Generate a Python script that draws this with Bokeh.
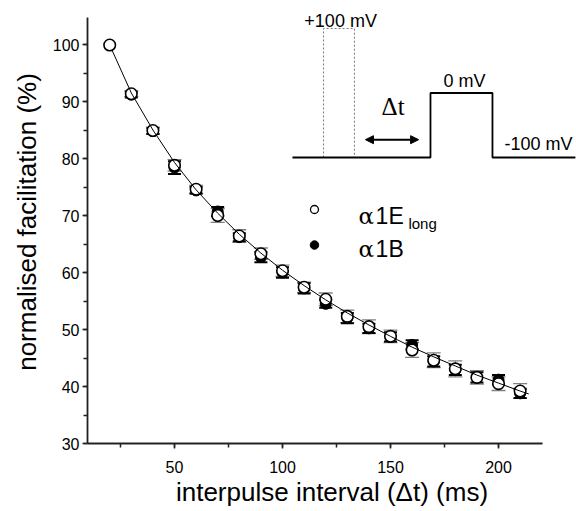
import numpy as np
from bokeh.plotting import figure
from bokeh.models import (ColumnDataSource, Whisker, TeeHead, Arrow, NormalHead,
                          SingleIntervalTicker, Range1d)
from bokeh.core.properties import value
from bokeh.embed import file_html
from bokeh.resources import INLINE

# ---------------- data ----------------
interval_ms = [20, 30, 40, 50, 60, 70, 80, 90, 100, 110, 120, 130, 140, 150, 160, 170, 180, 190, 200, 210]
e_long_mean = [99.9, 91.35, 84.9, 78.8, 74.6, 70.0, 66.4, 63.3, 60.3, 57.4, 55.3, 52.3, 50.5, 48.8, 46.4, 44.6, 43.1, 41.6, 40.5, 39.2]
e_long_sem = [0.0, 0.5, 0.6, 1.0, 0.7, 1.2, 1.1, 1.0, 1.0, 0.9, 1.1, 1.1, 1.2, 1.1, 1.3, 1.3, 1.4, 1.2, 1.2, 1.3]

b_interval_ms = [30, 40, 50, 60, 70, 80, 90, 100, 110, 120, 130, 140, 150, 160, 170, 180, 190, 200, 210]
b_mean = [91.2, 84.8, 78.4, 74.4, 70.7, 66.2, 62.7, 60.0, 57.2, 54.5, 52.0, 50.2, 48.7, 47.3, 44.4, 42.9, 41.6, 41.2, 38.8]
b_sem = [0.5, 0.5, 1.1, 0.6, 0.8, 0.7, 0.9, 0.9, 0.9, 0.7, 0.9, 0.8, 0.8, 0.8, 0.9, 0.9, 0.9, 0.8, 0.8]

fit_x = [21.2, 30, 40, 50, 60, 70, 80, 90, 100, 110, 120, 130, 140, 150, 160, 170, 180, 190, 200, 210, 214]
fit_y = [98.9, 91.5, 85.0, 79.3, 74.5, 70.4, 66.7, 63.4, 60.4, 57.7, 55.2, 52.9, 50.8, 48.8, 46.9, 45.2, 43.6, 42.0, 40.6, 39.2, 38.7]

# voltage protocol schematic (inset): schematic time units, mV
pulse_t = [0, 63.9, 63.9, 92.6, 92.6, 131]
pulse_v = [-100, -100, 0, 0, -100, -100]
pre_t = [14.4, 14.4, 28.7, 28.7]
pre_v = [-100, 100, 100, -100]

# ---------------- figure ----------------
p = figure(width=576, height=511, output_backend="svg", toolbar_location=None,
           x_range=Range1d(9.72, 236.1), y_range=Range1d(30, 107.72),
           min_border_left=87, min_border_right=0, min_border_top=0, min_border_bottom=68)
p.outline_line_color = None
p.xgrid.visible = False
p.ygrid.visible = False
p.background_fill_color = "white"
p.border_fill_color = "white"

FONT = "Liberation Sans"
for ax in (p.xaxis[0], p.yaxis[0]):
    ax.axis_line_color = "#222222"
    ax.axis_line_width = 1.8
    ax.major_tick_line_color = "#222222"
    ax.minor_tick_line_color = "#222222"
    ax.major_tick_line_width = 1.5
    ax.minor_tick_line_width = 1.5
    ax.major_tick_in = 0
    ax.minor_tick_in = 0
    ax.major_tick_out = 5
    ax.minor_tick_out = 4
    ax.major_label_text_font = FONT
    ax.major_label_text_font_size = "16px"
    ax.major_label_text_color = "black"
    ax.axis_label_text_font = FONT
    ax.axis_label_text_font_size = "26px"
    ax.axis_label_text_font_style = "normal"
    ax.axis_label_text_color = "black"

p.xaxis.ticker = SingleIntervalTicker(interval=50, num_minor_ticks=2)
p.yaxis.ticker = SingleIntervalTicker(interval=10, num_minor_ticks=2)
p.xaxis.bounds = (9.72, 220.4)
p.yaxis.bounds = (30, 104.7)
p.xaxis.axis_label = "interpulse interval (\u0394t) (ms)"
p.yaxis.axis_label = "normalised facilitation (%)"
p.xaxis.major_label_standoff = 12
p.yaxis.major_label_standoff = 3
p.xaxis.axis_label_standoff = 1
p.yaxis.axis_label_standoff = 8

# ---------------- error bars ----------------
e_src = ColumnDataSource(dict(
    x=interval_ms,
    y=e_long_mean,
    lo=[m - s for m, s in zip(e_long_mean, e_long_sem)],
    hi=[m + s for m, s in zip(e_long_mean, e_long_sem)],
))
b_src = ColumnDataSource(dict(
    x=b_interval_ms,
    y=b_mean,
    lo=[m - s for m, s in zip(b_mean, b_sem)],
    hi=[m + s for m, s in zip(b_mean, b_sem)],
))
# first point is the reference (no sem)
e_wsrc = ColumnDataSource(dict(
    x=interval_ms[1:], lo=e_src.data["lo"][1:], hi=e_src.data["hi"][1:]))

w1 = Whisker(source=e_wsrc, base="x", lower="lo", upper="hi",
             line_color="#808080", line_width=1,
             upper_head=TeeHead(size=14, line_color="#808080", line_width=1.3),
             lower_head=TeeHead(size=14, line_color="#808080", line_width=1.3))
w2 = Whisker(source=b_src, base="x", lower="lo", upper="hi",
             line_color="black", line_width=1,
             upper_head=TeeHead(size=13, line_color="black", line_width=2),
             lower_head=TeeHead(size=13, line_color="black", line_width=2))
p.add_layout(w1)
p.add_layout(w2)

# ---------------- points ----------------
p.scatter("x", "y", source=b_src, marker="circle", size=11,
          fill_color="black", line_color="black", line_width=1)
p.scatter("x", "y", source=e_src, marker="circle", size=11.5,
          fill_color="white", line_color="black", line_width=1.6)

# fitted curve
p.line(fit_x, fit_y, line_color="black", line_width=1)

# ---------------- inset (voltage protocol) ----------------
T0, TS = 104.6, 1.0 / 2.16 * 2.16   # schematic time -> data x
V0, VS = 80.18, 0.1131              # schematic mV -> data y
def ix(t):
    return [T0 + TS * v for v in t]
def iy(v):
    return [V0 + (u + 100) * VS for u in v]

p.line(ix(pre_t), iy(pre_v), line_color="#777777", line_width=1, line_dash="2 2")
p.line(ix(pulse_t), iy(pulse_v), line_color="black", line_width=1.8)

p.add_layout(Arrow(x_start=ix([33.8])[0], x_end=ix([58.4])[0],
                   y_start=iy([-72.4])[0], y_end=iy([-72.4])[0],
                   line_color="black", line_width=2,
                   start=NormalHead(size=8, fill_color="black", line_color="black"),
                   end=NormalHead(size=8, fill_color="black", line_color="black")))

inset_text = dict(text_font=value(FONT), text_font_size="18px", text_align="center",
                  text_baseline="middle", text_color="black")
p.text(x=ix([22.3]), y=iy([111]), text=["+100 mV"], **inset_text)
p.text(x=ix([79.7]), y=iy([18.7]), text=["0 mV"], **inset_text)
p.text(x=ix([113.9]), y=iy([-78.6]), text=["-100 mV"], **inset_text)
p.text(x=ix([46.6]), y=iy([-21.1]), text=["\u0394t"], text_font=value("Liberation Serif"),
       text_font_size="25px", text_align="center", text_baseline="middle", text_color="black")

# ---------------- legend ----------------
LX, LY1, LY2 = 114.8, 71.05, 64.82
p.scatter([LX], [LY1], marker="circle", size=8, fill_color="white",
          line_color="black", line_width=1.3)
p.scatter([LX], [LY2], marker="circle", size=8.5, fill_color="black", line_color="black")
for yy, lab in ((70.0, "1E"), (64.2, "1B")):
    p.text(x=[135.2], y=[yy], text=["\u03b1"], text_font=value("DejaVu Serif"),
           text_font_size="23px", text_align="left", text_baseline="middle", text_color="black")
    p.text(x=[143.1], y=[yy], text=[lab], text_font=value(FONT),
           text_font_size="23px", text_align="left", text_baseline="middle", text_color="black")
p.text(x=[158.3], y=[68.68], text=["long"], text_font=value(FONT),
       text_font_size="15px", text_align="left", text_baseline="middle", text_color="black")

open("out.html", "w").write(file_html(p, INLINE))
